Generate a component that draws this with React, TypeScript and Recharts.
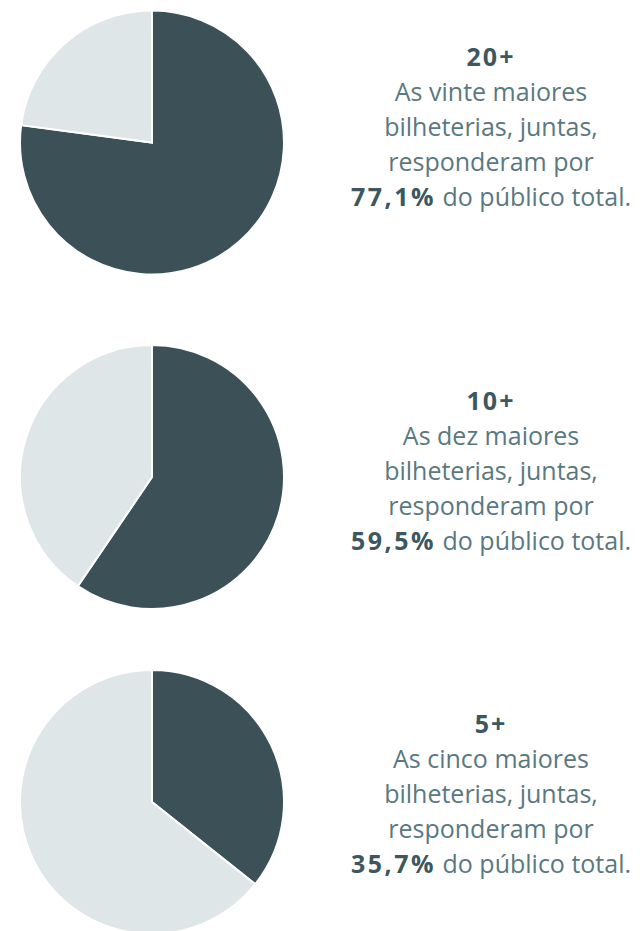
import React from 'react';
import { PieChart, Pie, Cell } from 'recharts';

const groups = ['20+', '10+', '5+'];
const shares = [77.1, 59.5, 35.7];
const countWords = ['vinte', 'dez', 'cinco'];
const shareLabels = ['77,1%', '59,5%', '35,7%'];

const DARK = '#3b5157';
const LIGHT = '#dfe6e8';
const TEXT = '#5a787f';
const BOLD = '#3e575e';

const W = 635;
const H = 923;
const centersY = [134.5, 469, 794];
const textTops = [31, 375, 698];

export default function App() {
  return (
    <div style={{ position: 'relative', width: W, height: H, fontFamily: '"Open Sans", sans-serif' }}>
      <PieChart width={W} height={H} margin={{ top: 0, right: 0, bottom: 0, left: 0 }}>
        {groups.map((g, i) => (
          <Pie
            key={g}
            data={[
              { name: 'top', value: shares[i] },
              { name: 'rest', value: +(100 - shares[i]).toFixed(1) },
            ]}
            dataKey="value"
            cx={144}
            cy={centersY[i]}
            outerRadius={132}
            innerRadius={0}
            startAngle={90}
            endAngle={-270}
            stroke="#ffffff"
            strokeWidth={2}
            isAnimationActive={false}
          >
            <Cell fill={DARK} />
            <Cell fill={LIGHT} />
          </Pie>
        ))}
      </PieChart>
      {groups.map((g, i) => (
        <div
          key={g}
          style={{
            position: 'absolute',
            left: 483 - 160,
            width: 320,
            top: textTops[i],
            textAlign: 'center',
            fontSize: 25,
            lineHeight: '35px',
            color: TEXT,
            whiteSpace: 'nowrap',
          }}
        >
          <div style={{ fontWeight: 700, color: BOLD, letterSpacing: '2px' }}>{g}</div>
          <div>As {countWords[i]} maiores</div>
          <div>bilheterias, juntas,</div>
          <div>responderam por</div>
          <div>
            <span style={{ fontWeight: 700, color: BOLD, letterSpacing: '2.5px' }}>{shareLabels[i]}</span> do público total.
          </div>
        </div>
      ))}
    </div>
  );
}
